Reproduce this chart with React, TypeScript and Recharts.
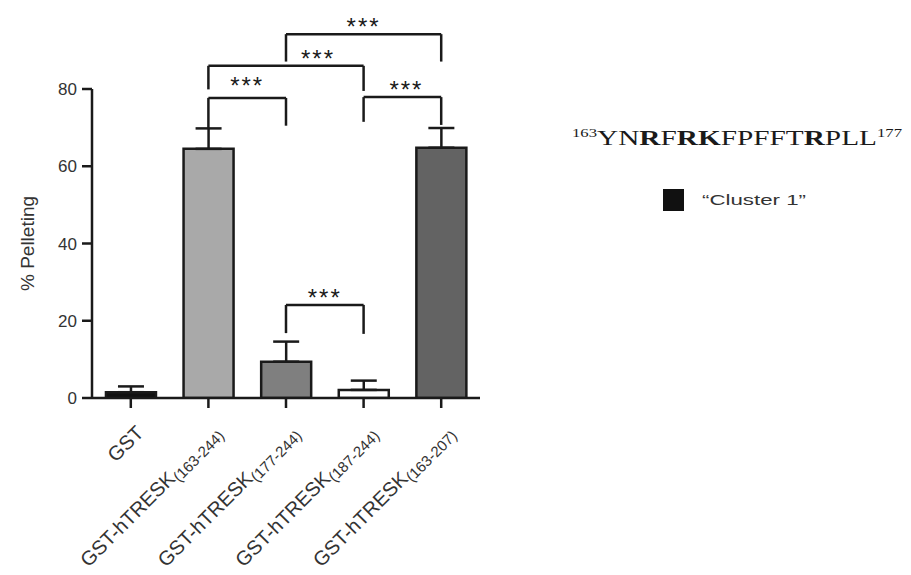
import React from 'react';
import { BarChart, Bar, XAxis, YAxis, ErrorBar, Cell, ReferenceLine, Legend } from 'recharts';

// ---------- data ----------
const constructs = ['GST', 'GST-hTRESK', 'GST-hTRESK', 'GST-hTRESK', 'GST-hTRESK'];
const ranges = ['', '(163-244)', '(177-244)', '(187-244)', '(163-207)'];
const pelletingMean = [1.5, 64.5, 9.4, 2.1, 64.8];
const pelletingSd = [1.5, 5.3, 5.2, 2.4, 5.1];
const yTicks = [0, 20, 40, 60, 80];

// significance brackets (category indices and heights in % pelleting)
const bracketFrom = [1, 1, 2, 3, 2];
const bracketTo = [2, 3, 4, 4, 3];
const bracketLevel = [77.7, 86.0, 94.2, 77.9, 24.1];
const bracketLeftEnd = [69.9, 79.9, 87.1, 71.5, 16.8];
const bracketRightEnd = [70.5, 79.5, 87.1, 70.7, 16.6];
const bracketText = ['***', '***', '***', '***', '***'];

// sequence annotation
const seqStart = '163';
const seqEnd = '177';
const seqResidues = ['YN', 'R', 'F', 'RK', 'FPFFT', 'R', 'PLL'];
const seqBold = [false, true, false, true, false, true, false];
const legendLabel = '\u201CCluster 1\u201D';

// ---------- styles (not data) ----------
const barFills = ['#111111', '#a9a9a9', '#7f7f7f', '#ffffff', '#636363'];
const starDx = [0, 32, 0, 4, 0];
const starDy = [-4, 1, 1, 1, 1];
const INK = '#1a1a1a';
const SANS = '"Liberation Sans", Arial, Helvetica, sans-serif';
const SERIF = '"Liberation Serif", "Times New Roman", serif';

const names = constructs.map((c, i) => c + ranges[i]);
const chartData = names.map((n, i) => ({
  name: n,
  value: pelletingMean[i],
  err: [0, pelletingSd[i]],
}));

const XTick = (props: any) => {
  const { x, y, payload } = props;
  const i = names.indexOf(payload.value);
  const main = constructs[i];
  const sub = ranges[i];
  return (
    <g transform={`translate(${x + 14},${y + 24}) rotate(-45)`}>
      <text textAnchor="end" fontFamily={SANS} fontSize={20} fill="#333">
        <tspan>{main}</tspan>
        {sub ? (
          <tspan fontSize={15} dy={4}>
            {sub}
          </tspan>
        ) : null}
      </text>
    </g>
  );
};

const YLabel = (props: any) => {
  const vb = props.viewBox || { x: 32, y: 89, width: 60, height: 309 };
  const cx = vb.x - 5;
  const cy = vb.y + vb.height / 2;
  return (
    <text
      x={cx}
      y={cy}
      transform={`rotate(-90, ${cx}, ${cy})`}
      textAnchor="middle"
      dominantBaseline="central"
      fontFamily={SANS}
      fontSize={19}
      fill="#333"
    >
      % Pelleting
    </text>
  );
};

const starLabel = (k: number) => (props: any) => {
  const vb = props.viewBox || {};
  const cx = (vb.x ?? 0) + (vb.width ?? 0) / 2 + starDx[k];
  const cy = (vb.y ?? 0) + starDy[k];
  return (
    <text
      x={cx}
      y={cy}
      textAnchor="middle"
      fontFamily={SANS}
      fontSize={24}
      letterSpacing={2}
      fill={INK}
    >
      {bracketText[k]}
    </text>
  );
};

const LegendBox = () => (
  <div style={{ position: 'relative', width: 911, height: 575, pointerEvents: 'none' }}>
    <svg width={911} height={575} style={{ position: 'absolute', left: 0, top: 0 }}>
      <text
        x={572}
        y={145}
        fontFamily={SERIF}
        fontSize={21}
        fill="#1a1a1a"
        textLength={330}
        lengthAdjust="spacingAndGlyphs"
      >
        <tspan fontSize={12} dy={-8}>
          {seqStart}
        </tspan>
        {seqResidues.map((r, i) => (
          <tspan key={i} fontWeight={seqBold[i] ? 'bold' : 'normal'} dy={i === 0 ? 8 : 0}>
            {r}
          </tspan>
        ))}
        <tspan fontSize={12} dy={-8}>
          {seqEnd}
        </tspan>
      </text>
      <rect x={663} y={189} width={21} height={22} fill="#111" />
      <text
        x={702}
        y={205}
        fontFamily={SANS}
        fontSize={15}
        fill="#333"
        textLength={104}
        lengthAdjust="spacingAndGlyphs"
      >
        {legendLabel}
      </text>
    </svg>
  </div>
);

export default function App() {
  return (
    <div style={{ position: 'absolute', left: 0, top: 0, width: 911, height: 575, background: '#fff' }}>
      <BarChart
        width={911}
        height={575}
        data={chartData}
        margin={{ top: 89, right: 431, bottom: 77, left: 32 }}
        barCategoryGap="18%"
      >
        <XAxis
          dataKey="name"
          height={100}
          interval={0}
          axisLine={{ stroke: INK, strokeWidth: 2.5 }}
          tickLine={{ stroke: INK, strokeWidth: 2.5 }}
          tickSize={10}
          tick={<XTick />}
        />
        <YAxis
          width={60}
          domain={[0, 80]}
          ticks={yTicks}
          allowDataOverflow
          axisLine={{ stroke: INK, strokeWidth: 2.5 }}
          tickLine={{ stroke: INK, strokeWidth: 2.5 }}
          tickSize={10}
          tickMargin={5}
          tick={{ fontFamily: SANS, fontSize: 17, fill: '#333' }}
          label={YLabel as any}
        />
        <Bar dataKey="value" stroke={INK} strokeWidth={2.5} isAnimationActive={false}>
          {chartData.map((d, i) => (
            <Cell key={d.name} fill={barFills[i]} />
          ))}
          <ErrorBar dataKey="err" direction="y" width={13} stroke={INK} strokeWidth={2.5} />
        </Bar>
        {bracketFrom.map((f, k) => {
          const a = names[f];
          const b = names[bracketTo[k]];
          const lv = bracketLevel[k];
          return (
            <React.Fragment key={k}>
              <ReferenceLine
                segment={[
                  { x: a, y: lv },
                  { x: b, y: lv },
                ]}
                stroke={INK}
                strokeWidth={2.5}
                ifOverflow="visible"
                label={starLabel(k) as any}
              />
              <ReferenceLine
                segment={[
                  { x: a, y: lv },
                  { x: a, y: bracketLeftEnd[k] },
                ]}
                stroke={INK}
                strokeWidth={2.5}
                ifOverflow="visible"
              />
              <ReferenceLine
                segment={[
                  { x: b, y: lv },
                  { x: b, y: bracketRightEnd[k] },
                ]}
                stroke={INK}
                strokeWidth={2.5}
                ifOverflow="visible"
              />
            </React.Fragment>
          );
        })}
        <Legend
          layout="vertical"
          align="center"
          verticalAlign="middle"
          wrapperStyle={{ left: 0, top: 0, width: 911, height: 575, pointerEvents: 'none' }}
          content={() => <LegendBox />}
        />
      </BarChart>
    </div>
  );
}
